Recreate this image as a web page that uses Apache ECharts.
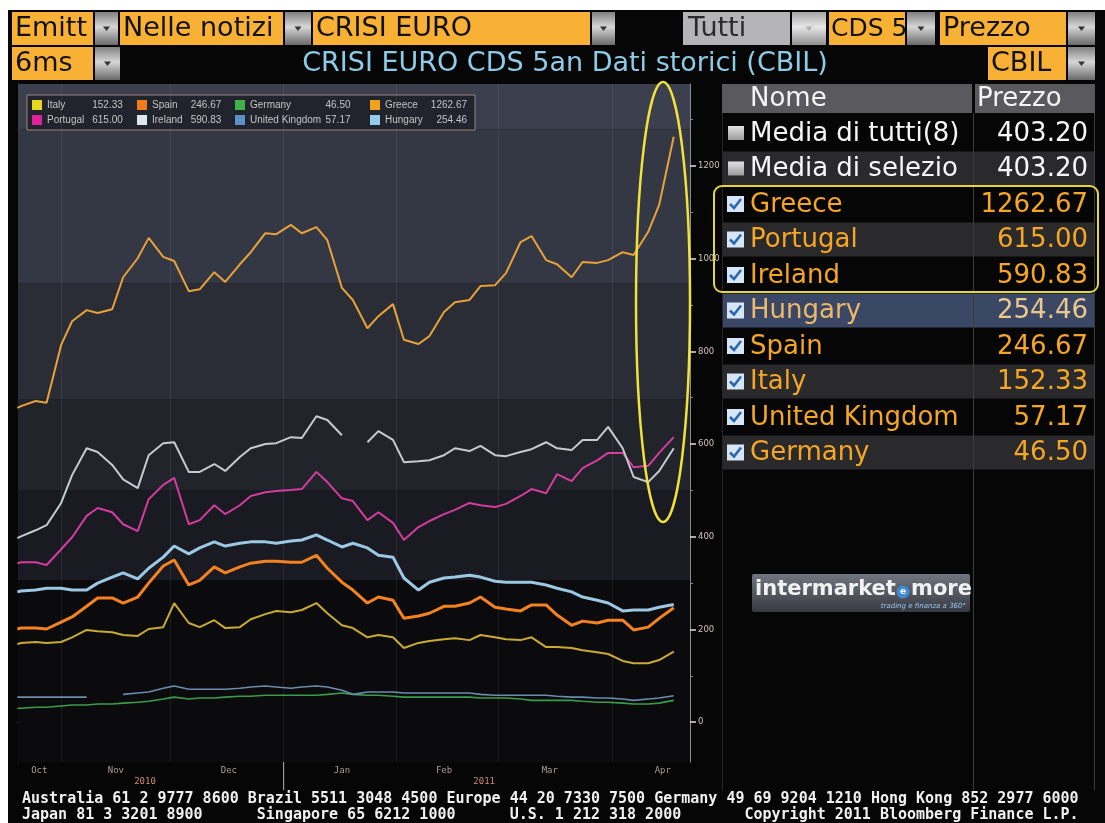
<!DOCTYPE html>
<html>
<head>
<meta charset="utf-8">
<script src="https://cdn.jsdelivr.net/npm/echarts@6/dist/echarts.min.js"></script>
<style>
html, body { margin: 0; padding: 0; background: #fff; }
#main { width: 1105px; height: 823px; }
</style>
</head>
<body>
<div id="main"></div>
<script>
// sample dates (twice a week), Oct 2010 - Apr 2011
var dates = ['2010-10-20','2010-10-21','2010-10-25','2010-10-28',
  '2010-11-01','2010-11-04','2010-11-08','2010-11-11','2010-11-15','2010-11-18','2010-11-22','2010-11-25','2010-11-29',
  '2010-12-02','2010-12-06','2010-12-09','2010-12-13','2010-12-16','2010-12-20','2010-12-23','2010-12-27','2010-12-30',
  '2011-01-03','2011-01-06','2011-01-10','2011-01-13','2011-01-17','2011-01-20','2011-01-24','2011-01-27','2011-01-31',
  '2011-02-03','2011-02-07','2011-02-10','2011-02-14','2011-02-17','2011-02-21','2011-02-24','2011-02-28',
  '2011-03-03','2011-03-07','2011-03-10','2011-03-14','2011-03-17','2011-03-21','2011-03-24','2011-03-28','2011-03-31',
  '2011-04-04','2011-04-07','2011-04-11','2011-04-14','2011-04-18'];

var greece = [678,682,693,689, 814,865,889,883,891,960,1001,1045,1004,
  995,930,934,971,950,988,1014,1055,1053, 1073,1055,1068,1040,937,911,850,876,902,
  825,816,833,885,906,911,941,943, 969,1036,1049,997,988,960,993,991,997, 1014,1008,1058,1116,1263];
var ireland = [397,401,414,425, 473,533,591,583,555,524,505,576,602,
  604,540,540,557,542,572,591,600,602, 615,613,660,652,619,null,604,628,609,
  561,563,565,576,591,585,596,576, 574,583,589,604,591,587,609,609,637, 591,529,518,542,591];
var portugal = [343,345,345,339, 373,399,445,462,453,427,412,481,512,
  527,427,436,468,449,468,488,496,499, 501,503,540,518,483,477,436,453,430,
  393,421,434,449,458,473,468,464, 471,488,503,494,535,520,548,565,581, 581,550,553,581,615];
var hungary = [281,283,285,289, 289,285,285,300,313,322,309,332,356,
  380,363,376,389,380,386,389,389,386, 391,393,404,393,378,386,376,360,356,
  311,285,302,311,313,317,313,304, 302,302,302,296,289,281,270,263,257, 240,242,242,248,254];
var spain = [201,203,203,201, 216,227,250,268,268,257,270,300,337,
  350,296,306,335,322,335,343,347,347, 345,345,360,332,302,285,257,270,263,
  224,229,235,250,250,257,270,248, 244,240,253,253,231,209,218,214,220, 220,199,205,224,247];
var italy = [168,171,173,171, 173,183,199,196,194,188,186,201,205,
  257,214,205,220,203,205,222,233,240, 237,242,257,235,209,203,183,188,183,
  160,171,175,179,181,177,188,183, 179,177,183,162,162,160,155,151,147, 132,127,127,134,152];
var uk = [54,54,54,54, 54,54,54,null,null,60,63,65,73,
  78,71,71,71,71,73,76,78,76, 73,76,78,76,69,60,65,65,65,
  63,63,63,63,63,63,60,58, 58,58,58,58,56,54,54,52,52, 50,47,50,52,57];
var germany = [30,30,32,32, 35,37,37,39,39,41,43,45,50,
  54,50,52,52,54,56,56,58,58, 58,58,58,60,63,60,58,58,56,
  54,54,54,54,54,54,52,52, 52,50,47,47,47,47,45,43,43, 41,39,39,41,47];

var monthStarts = ['2010-11-01','2010-12-01','2011-01-01','2011-02-01','2011-03-01','2011-04-01'];
var monthLabelDates = ['2010-10-26','2010-11-16','2010-12-17','2011-01-17','2011-02-14','2011-03-15','2011-04-15'];
var monthLabels = ['Oct','Nov','Dec','Jan','Feb','Mar','Apr'];
var yearLabelDates = ['2010-11-24','2011-02-25'];
var yearLabels = ['2010','2011'];
var yMajor = [0,200,400,600,800,1000,1200];
var yMinor = [100,300,500,700,900,1100,1300];
var bandEdges = [-86,306,500,697,947,1279,1377];
var bandColors = ['#0b0b0e','#191a22','#22242c','#2a2c36','#343744','#3c404e'];

var legendNames = ['Italy','Spain','Germany','Greece','Portugal','Ireland','United Kingdom','Hungary'];
var legendColors = ['#e6d820','#f07c1c','#3fb24a','#f2a31e','#e0229a','#dde8ee','#5b92c8','#92cdee'];

var tableNames = ['Media di tutti(8)','Media di selezio','Greece','Portugal','Ireland','Hungary','Spain','Italy','United Kingdom','Germany'];
var tablePrices = ['403.20','403.20','1262.67','615.00','590.83','254.46','246.67','152.33','57.17','46.50'];

function ts(s) {
    var p = s.split('-');
    return new Date(+p[0], +p[1] - 1, +p[2]).getTime();
}
function nearest(list, v) {
    var best = 0;
    for (var i = 1; i < list.length; i++) {
        if (Math.abs(list[i] - v) < Math.abs(list[best] - v)) best = i;
    }
    return best;
}

var xMin = new Date(2010, 9, 20, 4).getTime();
var xMax = new Date(2011, 3, 22, 11).getTime();
var monthLabelTs = monthLabelDates.map(ts);
var yearLabelTs = yearLabelDates.map(ts);

function line(name, vals, color, width) {
    return {
        name: name, type: 'line', showSymbol: false, symbol: 'none',
        data: dates.map(function (d, i) { return [ts(d), vals[i]]; }),
        lineStyle: {color: color, width: width},
        itemStyle: {color: color},
        emphasis: {disabled: true}
    };
}

var series = [
    line('Germany', germany, '#3a9c4a', 1.6),
    line('United Kingdom', uk, '#6a8cae', 1.6),
    line('Italy', italy, '#c9aa34', 2),
    line('Spain', spain, '#f3821f', 3),
    line('Hungary', hungary, '#9cc8e4', 3),
    line('Portugal', portugal, '#d43c9e', 2),
    line('Ireland', ireland, '#c4ccd0', 2),
    line('Greece', greece, '#e7a23a', 2)
];
series[0].markArea = {
    silent: true,
    data: bandColors.map(function (c, i) {
        return [{yAxis: bandEdges[i], itemStyle: {color: c}}, {yAxis: bandEdges[i + 1]}];
    })
};
series[0].markLine = {
    silent: true, symbol: 'none', label: {show: false},
    lineStyle: {color: 'rgba(255,255,255,0.07)', type: 'solid', width: 1},
    data: monthStarts.map(function (d) { return {xAxis: ts(d)}; })
};

// legend: 4 columns with right aligned prices
var colN = [43, 38, 74, 42], colV = [35, 32, 28, 40], colG = [9, 10, 15, 0];
var legendRich = {};
for (var c = 0; c < 4; c++) {
    var base = {fontSize: 10, color: '#c4c4c4', fontFamily: 'Liberation Sans', lineHeight: 12};
    legendRich['n' + c] = Object.assign({width: colN[c]}, base);
    legendRich['v' + c] = Object.assign({width: colV[c], align: 'right'}, base);
    legendRich['g' + c] = Object.assign({width: colG[c]}, base);
}

// ---- static terminal furniture ----
var ui = [];
var ORANGE = '#f8b134';
var F27 = '27px "DejaVu Sans"';
var F26 = '26px "DejaVu Sans"';
function addRect(x, y, w, h, fill, z) {
    ui.push({type: 'rect', silent: true, z: z || 0, shape: {x: x, y: y, width: w, height: h}, style: {fill: fill}});
}
function addText(x, y, text, font, fill, align, z) {
    ui.push({type: 'text', silent: true, z: z || 2, x: x, y: y,
        style: {text: text, font: font, fill: fill, align: align || 'left', verticalAlign: 'middle'}});
}
function addLine(x1, y1, x2, y2, color, w, z) {
    ui.push({type: 'line', silent: true, z: z || 1, shape: {x1: x1, y1: y1, x2: x2, y2: y2}, style: {stroke: color, lineWidth: w || 1}});
}
function addButton(x, y, w, h, light) {
    ui.push({type: 'rect', silent: true, z: 1, shape: {x: x, y: y, width: w, height: h},
        style: {fill: {type: 'linear', x: 0, y: 0, x2: 0, y2: 1, colorStops: [
            {offset: 0, color: light ? '#a4a4a4' : '#808080'},
            {offset: 0.45, color: light ? '#e6e6e6' : '#d6d6d6'},
            {offset: 1, color: light ? '#909090' : '#6a6a6a'}]}}});
    var cx = x + w / 2, cy = y + h / 2;
    ui.push({type: 'polygon', silent: true, z: 2, shape: {points: [[cx - 3.5, cy - 2], [cx + 3.5, cy - 2], [cx, cy + 2.5]]},
        style: {fill: light ? '#b0b0b0' : '#333'}});
}

addRect(8, 10, 1097, 813, '#060606', -10);

// top bars
addRect(12, 12, 81, 33, ORANGE); addText(15, 29, 'Emitt', F27, '#111');
addButton(95, 12, 23, 33);
addRect(120, 12, 163, 33, ORANGE); addText(123, 29, 'Nelle notizi', F27, '#111');
addButton(285, 12, 26, 33);
addRect(313, 12, 277, 33, ORANGE); addText(316, 29, 'CRISI EURO', F27, '#111');
addButton(592, 12, 23, 33);
addRect(683, 12, 107, 33, '#b4b4b7'); addText(688, 29, 'Tutti', F27, '#2a2a2a');
addButton(792, 12, 34, 33, true);
addRect(829, 12, 76, 33, ORANGE); addText(831, 29, 'CDS 5', '25px "DejaVu Sans"', '#111');
addButton(907, 12, 28, 33);
addRect(940, 12, 126, 33, ORANGE); addText(943, 29, 'Prezzo', F27, '#111');
addButton(1068, 12, 27, 33);

addRect(12, 47, 81, 33, ORANGE); addText(15, 64, '6ms', F27, '#111');
addButton(95, 47, 25, 33);
addText(565, 64, 'CRISI EURO CDS 5an Dati storici (CBIL)', F27, '#8ecbe8', 'center');
addRect(988, 47, 78, 33, ORANGE); addText(991, 64, 'CBIL', F27, '#111');
addButton(1068, 47, 27, 33);

// price table
addRect(722, 84, 250, 29, '#5a5a5e');
addRect(975, 84, 120, 29, '#5a5a5e');
addText(750, 99, 'Nome', F26, '#f4f4f4');
addText(977, 99, 'Prezzo', F26, '#f4f4f4');
addLine(973.5, 113, 973.5, 790, '#3c3c3c', 1);
addLine(1094.5, 113, 1094.5, 790, '#3c3c3c', 1);
addLine(722.5, 113, 722.5, 790, '#262626', 1);
tableNames.forEach(function (name, i) {
    var cy = 133 + i * 35.5;
    var bg = (name === 'Hungary') ? '#3a4866' : (i % 2 === 1 ? '#2a2a2c' : null);
    if (bg) addRect(722, cy - 17, 373, 34, bg, 0);
    var isAvg = i < 2;
    if (isAvg) {
        ui.push({type: 'rect', silent: true, z: 2, shape: {x: 728, y: cy - 7, width: 16, height: 14},
            style: {fill: {type: 'linear', x: 0, y: 0, x2: 0, y2: 1, colorStops: [{offset: 0, color: '#e2e2e2'}, {offset: 1, color: '#9a9a9a'}]}}});
    } else {
        addRect(727, cy - 8, 17, 16, '#d6e6f6', 2);
        ui.push({type: 'polyline', silent: true, z: 3, shape: {points: [[730, cy], [734, cy + 4], [741, cy - 5]]},
            style: {stroke: '#2a66ae', lineWidth: 2.5, fill: null}});
    }
    var col = isAvg ? '#f6f6f6' : (name === 'Hungary' ? '#ecb86c' : '#f5a623');
    var pcol = isAvg ? '#f6f6f6' : (name === 'Hungary' ? '#ecc78e' : '#f5a623');
    addText(750, cy + 1, name, F26, col);
    addText(1088, cy + 1, tablePrices[i], F26, pcol, 'right');
});
ui.push({type: 'rect', silent: true, z: 5, shape: {x: 714, y: 186, width: 384, height: 106, r: 8},
    style: {fill: null, stroke: '#e6d43c', lineWidth: 2}});

// logo
ui.push({type: 'rect', silent: true, z: 1, shape: {x: 752, y: 574, width: 218, height: 38, r: 2},
    style: {fill: {type: 'linear', x: 0, y: 0, x2: 0, y2: 1, colorStops: [{offset: 0, color: '#70757f'}, {offset: 1, color: '#373a42'}]}}});
addText(755, 590, 'intermarket', 'bold 21px "DejaVu Sans"', '#f2f2f2');
ui.push({type: 'circle', silent: true, z: 2, shape: {cx: 903, cy: 592, r: 6.5}, style: {fill: '#3f8ad2'}});
addText(903, 592, 'e', 'bold 9px "DejaVu Sans"', '#fff', 'center', 3);
addText(911, 590, 'more', 'bold 21px "DejaVu Sans"', '#f2f2f2');
addText(966, 606, 'trading e finanza a 360°', 'italic 7px "DejaVu Sans"', '#9cc6ee', 'right');

// footer
var FM = 'bold 15px "DejaVu Sans Mono"';
addText(22, 799, 'Australia 61 2 9777 8600 Brazil 5511 3048 4500 Europe 44 20 7330 7500 Germany 49 69 9204 1210 Hong Kong 852 2977 6000', FM, '#f0f0f0');
addText(22, 815, 'Japan 81 3 3201 8900      Singapore 65 6212 1000      U.S. 1 212 318 2000       Copyright 2011 Bloomberg Finance L.P.', FM, '#f0f0f0');

// highlight oval
ui.push({type: 'ellipse', silent: true, z: 100, shape: {cx: 663, cy: 302, rx: 27, ry: 220},
    style: {fill: null, stroke: '#f0e23a', lineWidth: 2.5}});

var chart = echarts.init(document.getElementById('main'));
chart.setOption({
    animation: false,
    backgroundColor: 'transparent',
    grid: {left: 18, right: 415, top: 84, bottom: 61},
    legend: {
        left: 27, top: 95, width: 450,
        padding: [4, 8, 4, 5],
        backgroundColor: '#21242d', borderColor: '#9c8282', borderWidth: 1,
        icon: 'rect', itemWidth: 10, itemHeight: 10, itemGap: 3,
        selectedMode: false,
        textStyle: {color: '#c4c4c4', fontSize: 10, fontFamily: 'Liberation Sans', lineHeight: 12, rich: legendRich},
        data: legendNames.map(function (n, i) { return {name: n, itemStyle: {color: legendColors[i]}}; }),
        formatter: function (name) {
            var c = legendNames.indexOf(name) % 4;
            var price = tablePrices[tableNames.indexOf(name)];
            return '{n' + c + '|' + name + '}{v' + c + '|' + price + '}' + (colG[c] ? '{g' + c + '| }' : '');
        }
    },
    xAxis: [{
        type: 'value', min: xMin, max: xMax,
        axisLine: {show: true, lineStyle: {color: '#7c7c7c'}},
        axisTick: {show: true, inside: true, length: 2, customValues: monthStarts.map(ts), lineStyle: {color: '#c0c0c0', width: 2}},
        axisLabel: {
            customValues: monthLabelTs, margin: 4, color: '#a89c9c', fontSize: 9, fontFamily: 'DejaVu Sans Mono',
            formatter: function (v) { return monthLabels[nearest(monthLabelTs, v)]; }
        },
        splitLine: {show: false}
    }, {
        type: 'value', min: xMin, max: xMax, position: 'bottom',
        axisLine: {show: false},
        axisTick: {show: false},
        axisLabel: {
            customValues: yearLabelTs, margin: 15, color: '#d08a74', fontSize: 9, fontFamily: 'DejaVu Sans Mono',
            formatter: function (v) { return yearLabels[nearest(yearLabelTs, v)]; }
        },
        splitLine: {show: false}
    }],
    yAxis: [{
        type: 'value', position: 'right', min: -86, max: 1377,
        axisLine: {show: true, lineStyle: {color: '#8a8a8a'}},
        axisTick: {show: true, length: 6, customValues: yMajor, lineStyle: {color: '#e6e0e0', width: 1.5}},
        axisLabel: {customValues: yMajor, margin: 8, color: '#cfc2c2', fontSize: 8.5, fontFamily: 'DejaVu Sans',
            formatter: function (v) { return String(v); }},
        splitLine: {show: false}
    }, {
        type: 'value', position: 'right', min: -86, max: 1377,
        axisLine: {show: false},
        axisTick: {show: true, length: 3, customValues: yMinor, lineStyle: {color: '#8a8a8a'}},
        axisLabel: {show: false},
        splitLine: {show: false}
    }, {
        type: 'value', position: 'left', min: -86, max: 1377,
        axisLine: {show: true, lineStyle: {color: '#6c6c6c'}},
        axisTick: {show: false}, axisLabel: {show: false}, splitLine: {show: false}
    }],
    series: series,
    graphic: {elements: ui}
});

// year divider below the date axis, placed from the axis scale
var yearX = chart.convertToPixel({xAxisIndex: 0}, ts('2011-01-01'));
var axisY = chart.convertToPixel({yAxisIndex: 0}, -86);
ui.push({type: 'line', silent: true, z: 5, shape: {x1: yearX, y1: axisY, x2: yearX, y2: axisY + 28},
    style: {stroke: '#9a9a9a', lineWidth: 1.2}});
chart.setOption({graphic: {elements: ui}});
</script>
</body>
</html>
